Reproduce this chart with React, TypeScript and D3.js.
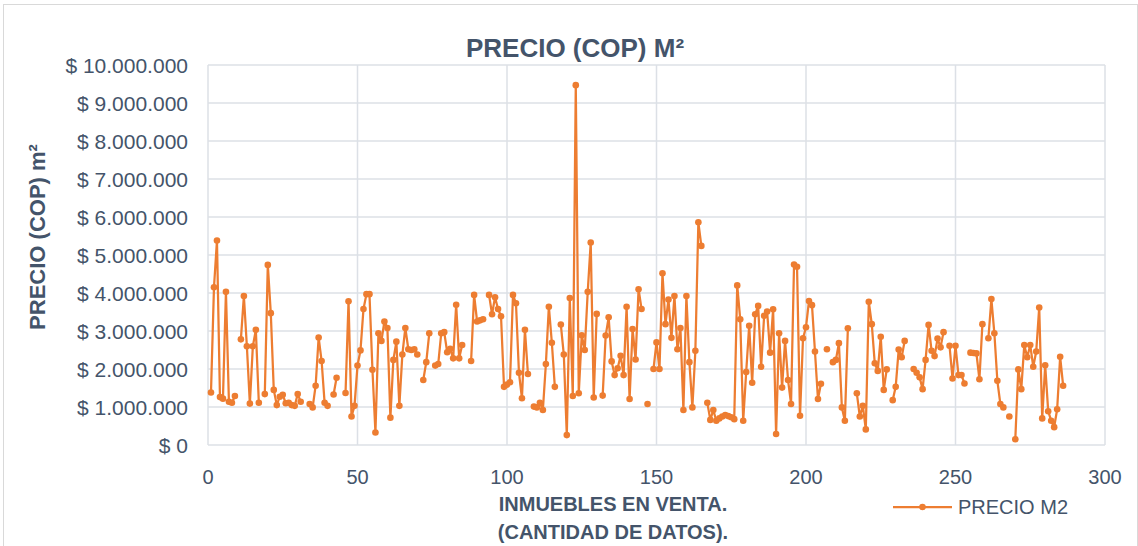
import React from "react";
import * as d3 from "d3";

// Precio por m² (millones de COP), índice 1..286; null = sin dato
const precioMillones: (number | null)[] = [
  1.38, 4.15, 5.38, 1.26, 1.22, 4.03, 1.14, 1.11, 1.29, null,
  2.78, 3.92, 2.60, 1.09, 2.60, 3.03, 1.11, null, 1.34, 4.74,
  3.47, 1.45, 1.05, 1.27, 1.32, 1.10, 1.11, 1.05, 1.03, 1.34,
  1.14, null, null, 1.08, 0.99, 1.56, 2.83, 2.21, 1.11, 1.03,
  null, 1.33, 1.77, null, null, 1.37, 3.78, 0.75, 1.03, 2.09,
  2.49, 3.58, 3.97, 3.97, 1.98, 0.33, 2.94, 2.74, 3.25, 3.08,
  0.72, 2.24, 2.72, 1.03, 2.38, 3.08, 2.52, 2.50, 2.52, 2.38,
  null, 1.71, 2.18, 2.94, null, 2.09, 2.13, 2.94, 2.97, 2.44,
  2.53, 2.28, 3.69, 2.28, 2.63, null, null, 2.21, 3.95, 3.25,
  3.28, 3.31, null, 3.95, 3.44, 3.89, 3.58, 3.39, 1.53, 1.59,
  1.65, 3.95, 3.73, 1.90, 1.23, 3.03, 1.87, null, 1.01, 0.99,
  1.11, 0.92, 2.13, 3.64, 2.69, 1.53, null, 3.17, 2.38, 0.26,
  3.87, 1.29, 9.47, 1.36, 2.89, 2.50, 4.03, 5.33, 1.25, 3.45,
  null, 1.30, 2.88, 3.36, 2.20, 1.84, 2.02, 2.35, 1.84, 3.64,
  1.21, 3.05, 2.25, 4.10, 3.58, null, 1.08, null, 2.00, 2.70,
  2.00, 4.52, 3.18, 3.83, 2.82, 3.92, 2.52, 3.08, 0.92, 3.92,
  2.18, 0.99, 2.48, 5.86, 5.24, null, 1.11, 0.66, 0.92, 0.64,
  0.70, 0.75, 0.79, 0.76, 0.73, 0.68, 4.20, 3.31, 0.64, 1.92,
  3.14, 1.64, 3.44, 3.66, 2.06, 3.40, 3.51, 2.43, 3.57, 0.29,
  2.94, 1.51, 2.74, 1.71, 1.08, 4.75, 4.69, 0.77, 2.81, 3.10,
  3.79, 3.68, 2.46, 1.21, 1.61, null, 2.52, null, 2.18, 2.24,
  2.68, 0.99, 0.64, 3.07, null, null, 1.36, 0.75, 1.03, 0.41,
  3.77, 3.18, 2.15, 1.95, 2.85, 1.45, 1.99, null, 1.18, 1.53,
  2.51, 2.31, 2.74, null, null, 2.00, 1.90, 1.78, 1.47, 2.24,
  3.16, 2.48, 2.34, 2.80, 2.57, 2.97, null, 2.61, 1.75, 2.61,
  1.84, 1.84, 1.62, null, 2.43, 2.42, 2.41, 1.73, 3.18, null,
  2.81, 3.84, 2.94, 1.69, 1.08, 0.99, null, 0.75, null, 0.15,
  1.99, 1.47, 2.63, 2.31, 2.63, 2.06, 2.46, 3.62, 0.70, 2.10,
  0.89, 0.64, 0.47, 0.94, 2.32, 1.56,
];

const xTicks = [0, 50, 100, 150, 200, 250, 300];
const yTicks = [0, 1e6, 2e6, 3e6, 4e6, 5e6, 6e6, 7e6, 8e6, 9e6, 10e6];

const titleText = "PRECIO (COP) M²";
const yTitle = "PRECIO (COP) m²";
const xTitle1 = "INMUEBLES EN VENTA.";
const xTitle2 = "(CANTIDAD DE DATOS).";
const seriesName = "PRECIO M2";

type Pt = { i: number; v: number | null };
const data: Pt[] = precioMillones.map((m, k) => ({ i: k + 1, v: m == null ? null : m * 1e6 }));

const W = 1138;
const H = 546;
const M = { left: 208, right: 1105, top: 65, bottom: 445 };
const ORANGE = "#ED7D31";
const TXT = "#44546A";
const GRID = "#DCE0E6";
const FONT = "'Liberation Sans', Arial, sans-serif";

const locale = d3.formatLocale({
  decimal: ",",
  thousands: ".",
  grouping: [3],
  currency: ["$ ", ""],
});
const fmt = locale.format("$,.0f");

export default function App() {
  const x = d3.scaleLinear().domain([0, 300]).range([M.left, M.right]);
  const y = d3.scaleLinear().domain([0, 10e6]).range([M.bottom, M.top]);

  const line = d3
    .line<Pt>()
    .defined((d) => d.v != null)
    .x((d) => x(d.i))
    .y((d) => y(d.v as number));

  const pts = data.filter((d) => d.v != null);

  return (
    <svg
      width={W}
      height={H}
      style={{ position: "absolute", left: 0, top: 0, background: "#fff" }}
      fontFamily={FONT}
    >
      <rect x={3.5} y={4.5} width={W - 4} height={H + 10} fill="#fff" stroke="#D9D9D9" strokeWidth={1} />
      {/* grid */}
      {yTicks.map((t) => (
        <line key={"gy" + t} x1={M.left} x2={M.right} y1={y(t)} y2={y(t)} stroke={GRID} strokeWidth={1.5} />
      ))}
      {xTicks.map((t) => (
        <line key={"gx" + t} x1={x(t)} x2={x(t)} y1={M.top} y2={M.bottom} stroke={GRID} strokeWidth={1.5} />
      ))}
      {/* y tick labels */}
      {yTicks.map((t) => (
        <text key={"ty" + t} x={188} y={y(t) + 7.5} textAnchor="end" fontSize={21} fill={TXT}>
          {fmt(t)}
        </text>
      ))}
      {/* x tick labels */}
      {xTicks.map((t) => (
        <text key={"tx" + t} x={x(t)} y={484} textAnchor="middle" fontSize={20} fill={TXT}>
          {t}
        </text>
      ))}
      {/* series */}
      <path d={line(data) || ""} fill="none" stroke={ORANGE} strokeWidth={2.25} strokeLinejoin="round" />
      {pts.map((d) => (
        <circle key={"p" + d.i} cx={x(d.i)} cy={y(d.v as number)} r={3.3} fill={ORANGE} />
      ))}
      {/* title */}
      <text x={575} y={57} textAnchor="middle" fontSize={26} fontWeight="bold" fill={TXT}>
        {titleText}
      </text>
      {/* y title */}
      <text
        transform={`translate(45, 237) rotate(-90)`}
        textAnchor="middle"
        fontSize={22}
        fontWeight="bold"
        fill={TXT}
      >
        {yTitle}
      </text>
      {/* x title */}
      <text x={613} y={511} textAnchor="middle" fontSize={20} fontWeight="bold" fill={TXT}>
        {xTitle1}
      </text>
      <text x={613} y={539} textAnchor="middle" fontSize={20} fontWeight="bold" fill={TXT}>
        {xTitle2}
      </text>
      {/* legend */}
      <line x1={893} x2={952} y1={507} y2={507} stroke={ORANGE} strokeWidth={2.25} />
      <circle cx={922.5} cy={507} r={3.3} fill={ORANGE} />
      <text x={958} y={514} fontSize={20} fill={TXT}>
        {seriesName}
      </text>
    </svg>
  );
}
